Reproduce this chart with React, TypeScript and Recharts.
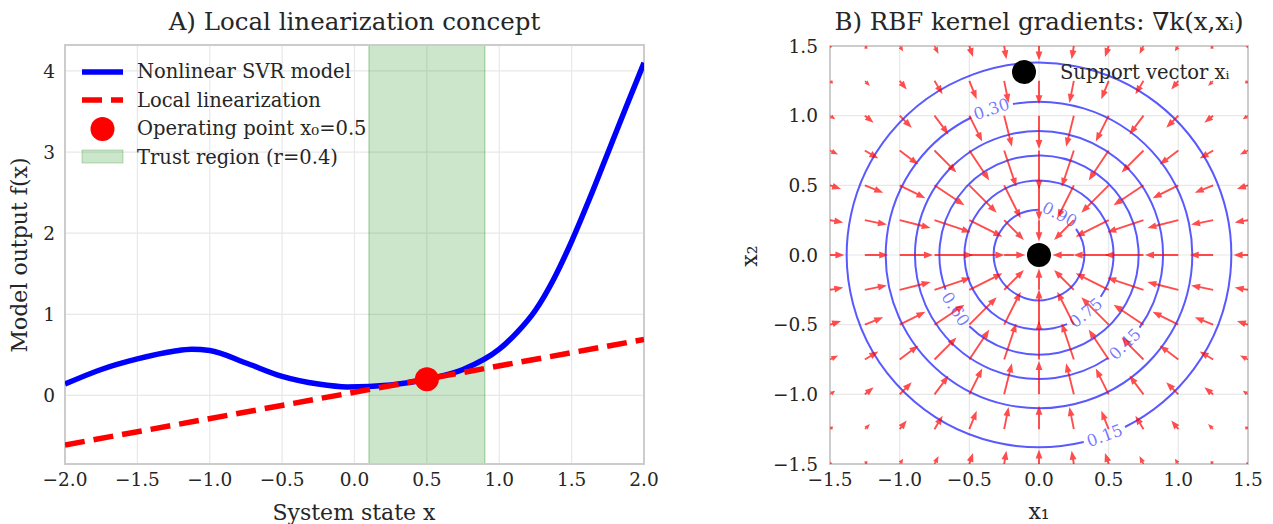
import React from 'react';
import {
  ComposedChart,
  Line,
  Scatter,
  XAxis,
  YAxis,
  CartesianGrid,
  ReferenceArea,
  Legend,
  Label,
} from 'recharts';

const FONT = '"DejaVu Serif", serif';
const TEXT = '#262626';
const GRID_COLOR = '#e8e8e8';
const FRAME = '#cccccc';

// ---- Panel A: nonlinear model vs. local linearization ----
const SVR_X = [-2.0, -1.75, -1.5, -1.25, -1.125, -1.0, -0.75, -0.5, -0.25, -0.05, 0.25, 0.5, 0.75, 1.0, 1.125, 1.25, 1.375, 1.5, 1.625, 1.75, 1.875, 2.0];
const SVR_Y = [0.14, 0.32, 0.45, 0.545, 0.57, 0.555, 0.4, 0.235, 0.14, 0.105, 0.13, 0.2, 0.32, 0.57, 0.78, 1.05, 1.43, 1.9, 2.43, 2.99, 3.55, 4.1];
const LIN_X = [-2.0, 2.0];
const LIN_Y = [-0.61, 0.69];
const OP_X = 0.5;
const OP_Y = 0.2;
const TRUST = [0.1, 0.9];
const A_XTICKS = [-2, -1.5, -1, -0.5, 0, 0.5, 1, 1.5, 2];
const A_YTICKS = [0, 1, 2, 3, 4];
const A_YDOMAIN = [-0.845, 4.32];

// ---- Panel B: RBF kernel contours and gradient field ----
const B_TICKS = [-1.5, -1, -0.5, 0, 0.5, 1, 1.5];
const QUIVER_GRID = [-1.5, -1.25, -1.0, -0.75, -0.5, -0.25, 0, 0.25, 0.5, 0.75, 1.0, 1.25, 1.5];
// gradient magnitude by |column|, |row| steps away from the support vector
const GRAD_MAG = [
  [0.0, 0.47, 0.78, 0.86, 0.74, 0.52, 0.32],
  [0.47, 0.62, 0.82, 0.85, 0.71, 0.5, 0.3],
  [0.78, 0.82, 0.86, 0.8, 0.64, 0.44, 0.26],
  [0.86, 0.85, 0.8, 0.69, 0.52, 0.35, 0.2],
  [0.74, 0.71, 0.64, 0.52, 0.38, 0.25, 0.14],
  [0.52, 0.5, 0.44, 0.35, 0.25, 0.16, 0.09],
  [0.32, 0.3, 0.26, 0.2, 0.14, 0.09, 0.05],
];
const LEVELS = [0.15, 0.3, 0.45, 0.6, 0.75, 0.9];
const LEVEL_RADII = [1.38, 1.1, 0.89, 0.715, 0.535, 0.325];
const LABEL_ANGLES = [-70, 108, -46, -147, -51, 63];
const SUPPORT = [{ x: 0, y: 0 }];

const svrData = SVR_X.map((x, i) => ({ x, y: SVR_Y[i] }));
const linData = LIN_X.map((x, i) => ({ x, y: LIN_Y[i] }));
const opData = [{ x: OP_X, y: OP_Y }];
const mid = (QUIVER_GRID.length - 1) / 2;
const quiverData = QUIVER_GRID.flatMap((gx, i) =>
  QUIVER_GRID.map((gy, j) => ({ x: gx, y: gy, mag: GRAD_MAG[Math.abs(i - mid)][Math.abs(j - mid)] }))
).filter((p) => p.mag > 0);

const fmt = (v: number) => (v < 0 ? '\u2212' : '') + Math.abs(v).toFixed(1);
const tickStyle = { fontFamily: FONT, fontSize: 18.5, fill: TEXT };
const LABEL_SIZE = 22;
const LEGEND_SIZE = 19.5;
const QUIVER_SCALE = 45;

const Arrow = (props: any) => {
  const { cx, cy, payload } = props;
  if (cx == null || cy == null) return <g />;
  const r = Math.hypot(payload.x, payload.y);
  const ux = -payload.x / r;
  const uy = payload.y / r;
  const L = payload.mag * QUIVER_SCALE;
  let hl = 9;
  let hw = 3.4;
  let sw = 0.95;
  if (L < hl * 1.3) {
    const s = L / (hl * 1.3);
    hl *= s;
    hw *= Math.max(s, 0.65);
    sw *= s;
  }
  const px = -uy;
  const py = ux;
  const bx = cx + ux * (L - hl);
  const by = cy + uy * (L - hl);
  const tx = cx + ux * L;
  const ty = cy + uy * L;
  const pts = [
    [cx + px * sw, cy + py * sw],
    [bx + px * sw, by + py * sw],
    [bx + px * hw, by + py * hw],
    [tx, ty],
    [bx - px * hw, by - py * hw],
    [bx - px * sw, by - py * sw],
    [cx - px * sw, cy - py * sw],
  ];
  return <polygon points={pts.map((p) => p.join(',')).join(' ')} fill="#ff0000" fillOpacity={0.7} />;
};

const contourShape = (k: number) => (props: any) => {
  const { x, y, width, height } = props;
  const cx = x + width / 2;
  const cy = y + height / 2;
  const rx = width / 2;
  const ry = height / 2;
  const t = (LABEL_ANGLES[k] * Math.PI) / 180;
  const gap = 22 / rx;
  const p = (a: number) => [cx + rx * Math.cos(a), cy - ry * Math.sin(a)];
  const [x1, y1] = p(t + gap);
  const [x2, y2] = p(t - gap);
  const [lx, ly] = p(t);
  let rot = (Math.atan2(-ry * Math.cos(t), -rx * Math.sin(t)) * 180) / Math.PI;
  if (rot > 90) rot -= 180;
  if (rot < -90) rot += 180;
  return (
    <g>
      <path
        d={`M${x1},${y1} A${rx},${ry} 0 1 0 ${x2},${y2}`}
        fill="none"
        stroke="#0000ff"
        strokeOpacity={0.65}
        strokeWidth={2}
      />
      <text
        x={lx}
        y={ly}
        transform={`rotate(${rot} ${lx} ${ly})`}
        textAnchor="middle"
        dominantBaseline="central"
        fontFamily={FONT}
        fontSize={16.5}
        fill="#0000ff"
        fillOpacity={0.55}
      >
        {LEVELS[k].toFixed(2)}
      </text>
    </g>
  );
};

const LegendA = () => {
  const row = { display: 'flex', alignItems: 'center', height: 28.5, whiteSpace: 'nowrap' } as const;
  return (
    <div style={{ fontFamily: FONT, fontSize: LEGEND_SIZE, color: TEXT }}>
      <div style={row}>
        <svg width={57} height={28}><line x1={2} y1={14} x2={43} y2={14} stroke="#0000ff" strokeWidth={5.5} /></svg>
        <span>Nonlinear SVR model</span>
      </div>
      <div style={row}>
        <svg width={57} height={28}><line x1={2} y1={14} x2={43} y2={14} stroke="#ff0000" strokeWidth={5.5} strokeDasharray="20 9" /></svg>
        <span>Local linearization</span>
      </div>
      <div style={row}>
        <svg width={57} height={28}><circle cx={22.5} cy={14} r={12} fill="#ff0000" /></svg>
        <span>Operating point x₀=0.5</span>
      </div>
      <div style={row}>
        <svg width={57} height={28}><rect x={2} y={7} width={41} height={13} fill="#008000" fillOpacity={0.2} stroke="#008000" strokeOpacity={0.25} /></svg>
        <span>Trust region (r=0.4)</span>
      </div>
    </div>
  );
};

const LegendB = () => (
  <div style={{ fontFamily: FONT, fontSize: LEGEND_SIZE, color: TEXT, display: 'flex', alignItems: 'center', whiteSpace: 'nowrap' }}>
    <svg width={50} height={28}><circle cx={14} cy={14} r={12} fill="#000000" /></svg>
    <span>Support vector xᵢ</span>
  </div>
);

const titleStyle = (left: number, width: number) =>
  ({
    position: 'absolute',
    left,
    width,
    top: 6,
    textAlign: 'center',
    fontFamily: FONT,
    fontSize: 24.5,
    color: TEXT,
    lineHeight: '32px',
    whiteSpace: 'nowrap',
  }) as const;

const axisText = (x: number, y: number, text: string, vertical = false) => (
  <text
    x={x}
    y={y}
    transform={vertical ? `rotate(-90 ${x} ${y})` : undefined}
    textAnchor="middle"
    dominantBaseline="central"
    fontFamily={FONT}
    fontSize={LABEL_SIZE}
    fill={TEXT}
  >
    {text}
  </text>
);

export default function App() {
  return (
    <div style={{ position: 'absolute', left: 0, top: 0, width: 1273, height: 524, background: '#fff' }}>
      <div style={titleStyle(25, 659)}>A) Local linearization concept</div>
      <div style={titleStyle(790, 498)}>B) RBF kernel gradients: ∇k(x,xᵢ)</div>

      <div style={{ position: 'absolute', left: 0, top: 0 }}>
        <ComposedChart width={660} height={524} margin={{ top: 45, right: 16, bottom: 0, left: 0 }}>
          <CartesianGrid stroke={GRID_COLOR} strokeWidth={1.2} />
          <XAxis
            type="number"
            dataKey="x"
            domain={[-2, 2]}
            ticks={A_XTICKS}
            tickFormatter={fmt}
            allowDataOverflow
            height={60}
            axisLine={false}
            tickLine={false}
            tickMargin={3}
            tick={tickStyle}
          >
            <Label content={() => axisText(354, 512, 'System state x')} />
          </XAxis>
          <YAxis
            type="number"
            dataKey="y"
            domain={A_YDOMAIN}
            ticks={A_YTICKS}
            allowDataOverflow
            width={65}
            axisLine={false}
            tickLine={false}
            tickMargin={4}
            tick={tickStyle}
          >
            <Label content={() => axisText(19, 255, 'Model output f(x)', true)} />
          </YAxis>
          <ReferenceArea
            x1={TRUST[0]}
            x2={TRUST[1]}
            y1={A_YDOMAIN[0]}
            y2={A_YDOMAIN[1]}
            fill="#008000"
            fillOpacity={0.2}
            stroke="#008000"
            strokeOpacity={0.25}
            strokeWidth={1.5}
          />
          <Line
            data={svrData}
            dataKey="y"
            type="monotoneX"
            stroke="#0000ff"
            strokeWidth={5.5}
            dot={false}
            activeDot={false}
            isAnimationActive={false}
          />
          <Line
            data={linData}
            dataKey="y"
            type="linear"
            stroke="#ff0000"
            strokeWidth={5.5}
            strokeDasharray="20 9"
            dot={false}
            activeDot={false}
            isAnimationActive={false}
          />
          <Scatter
            data={opData}
            dataKey="y"
            fill="#ff0000"
            isAnimationActive={false}
            shape={(p: any) => <circle cx={p.cx} cy={p.cy} r={12} fill="#ff0000" />}
          />
          <ReferenceArea
            x1={-2}
            x2={2}
            y1={A_YDOMAIN[0]}
            y2={A_YDOMAIN[1]}
            fill="none"
            stroke={FRAME}
            strokeWidth={2}
          />
          <Legend
            layout="horizontal"
            verticalAlign="middle"
            align="center"
            content={LegendA}
            wrapperStyle={{ position: 'absolute', left: 80, top: 57.5, width: 'auto', height: 'auto' }}
          />
        </ComposedChart>
      </div>

      <div style={{ position: 'absolute', left: 660, top: 0 }}>
        <ComposedChart width={613} height={524} margin={{ top: 46, right: 25, bottom: 0, left: 0 }}>
          <CartesianGrid stroke={GRID_COLOR} strokeWidth={1.2} />
          <XAxis
            type="number"
            dataKey="x"
            domain={[-1.5, 1.5]}
            ticks={B_TICKS}
            tickFormatter={fmt}
            allowDataOverflow
            height={60}
            axisLine={false}
            tickLine={false}
            tickMargin={3}
            tick={tickStyle}
          >
            <Label content={() => axisText(379, 511, 'x₁')} />
          </XAxis>
          <YAxis
            type="number"
            dataKey="y"
            domain={[-1.5, 1.5]}
            ticks={B_TICKS}
            tickFormatter={fmt}
            allowDataOverflow
            width={170}
            axisLine={false}
            tickLine={false}
            tickMargin={6}
            tick={tickStyle}
          >
            <Label content={() => axisText(89, 256, 'x₂', true)} />
          </YAxis>
          {LEVEL_RADII.map((r, k) => (
            <ReferenceArea key={LEVELS[k]} x1={-r} x2={r} y1={-r} y2={r} shape={contourShape(k)} />
          ))}
          <Scatter data={quiverData} dataKey="y" isAnimationActive={false} shape={Arrow} />
          <Scatter
            data={SUPPORT}
            dataKey="y"
            fill="#000000"
            isAnimationActive={false}
            shape={(p: any) => <circle cx={p.cx} cy={p.cy} r={12} fill="#000000" />}
          />
          <ReferenceArea x1={-1.5} x2={1.5} y1={-1.5} y2={1.5} fill="none" stroke={FRAME} strokeWidth={2} />
          <Legend
            layout="horizontal"
            verticalAlign="middle"
            align="center"
            content={LegendB}
            wrapperStyle={{ position: 'absolute', left: 350, top: 58, width: 'auto', height: 'auto' }}
          />
        </ComposedChart>
      </div>
    </div>
  );
}
